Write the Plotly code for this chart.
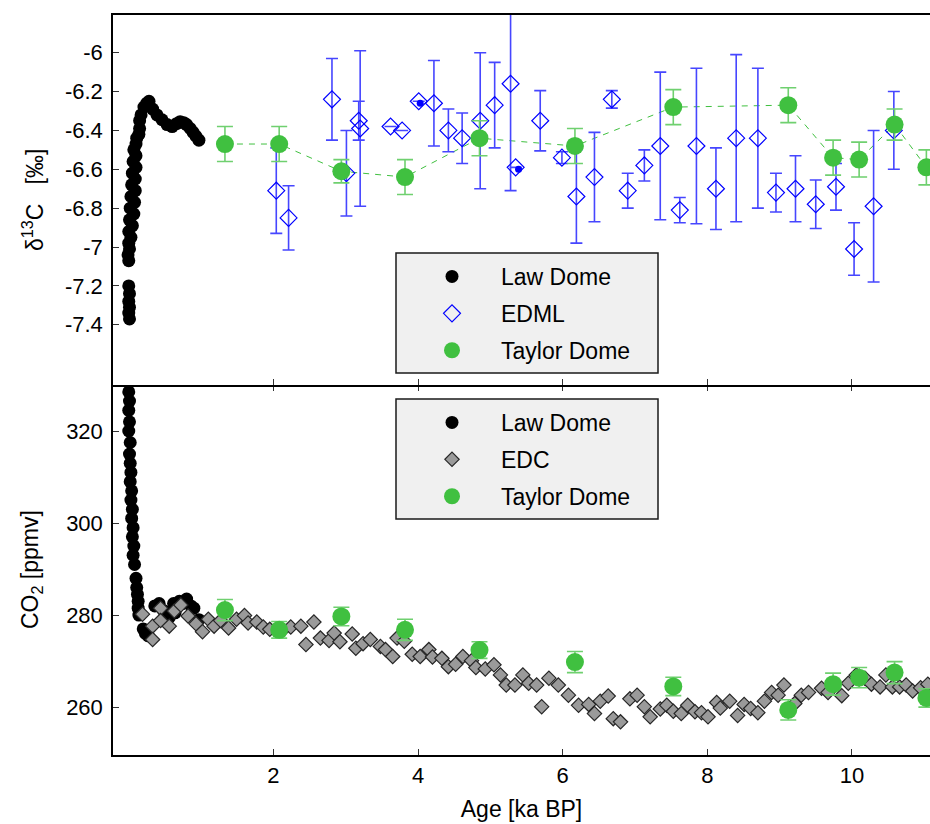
import plotly.graph_objects as go

# ---------------- data ----------------
law_d13c_age = [0.01, 0.00, 0.01, 0.00, 0.01, 0.00,
                0.00, -0.01, 0.01, 0.00, 0.03, 0.00, 0.05, 0.01, 0.07, 0.02,
                0.08, 0.03, 0.09, 0.04, 0.09, 0.05, 0.10, 0.06, 0.10, 0.07,
                0.10, 0.11, 0.14, 0.15, 0.15, 0.17, 0.21, 0.25, 0.28, 0.33,
                0.39, 0.46, 0.53, 0.60, 0.66, 0.71, 0.76, 0.80, 0.85, 0.89,
                0.93, 0.97]
law_d13c = [-7.37, -7.34, -7.31, -7.28, -7.24, -7.20,
            -7.07, -7.04, -7.01, -6.98, -6.95, -6.92, -6.89, -6.86, -6.83, -6.80,
            -6.77, -6.74, -6.71, -6.68, -6.65, -6.62, -6.59, -6.56, -6.53, -6.50,
            -6.47, -6.44, -6.42, -6.39, -6.35, -6.32, -6.28, -6.26, -6.25, -6.29,
            -6.32, -6.345, -6.37, -6.38, -6.365, -6.355, -6.36, -6.37, -6.39, -6.41,
            -6.43, -6.45]

edml_age = [2.04, 2.21, 2.81, 3.01, 3.18, 3.20, 3.62, 3.78, 4.01, 4.22, 4.42, 4.61,
            4.86, 5.06, 5.28, 5.35, 5.69, 5.99, 6.19, 6.44, 6.68, 6.90, 7.13, 7.35,
            7.62, 7.85, 8.12, 8.40, 8.70, 8.95, 9.22, 9.50, 9.78, 10.03, 10.30, 10.58]
edml_d13c = [-6.71, -6.85, -6.24, -6.62, -6.35, -6.39, -6.38, -6.40, -6.25, -6.26, -6.40, -6.44,
             -6.35, -6.27, -6.16, -6.59, -6.35, -6.54, -6.74, -6.64, -6.24, -6.71, -6.58, -6.48,
             -6.81, -6.48, -6.70, -6.44, -6.44, -6.72, -6.70, -6.78, -6.69, -7.01, -6.79, -6.40]
edml_err = [0.22, 0.165, 0.21, 0.22, 0.10, 0.40, None, None, None, 0.22, 0.11, 0.13,
            0.35, 0.22, 0.55, None, 0.155, 0.03, 0.24, 0.23, 0.045, 0.09, 0.08, 0.38,
            0.065, 0.40, 0.21, 0.43, 0.36, 0.10, 0.17, 0.125, 0.12, 0.135, 0.39, 0.20]
edml_dot_age = [4.03, 5.39]
edml_dot_d13c = [-6.26, -6.60]

td_age = [1.33, 2.08, 2.94, 3.82, 4.85, 6.17, 7.53, 9.12, 9.74, 10.10, 10.59, 11.03]
td_d13c = [-6.47, -6.47, -6.61, -6.64, -6.44, -6.48, -6.28, -6.27, -6.54, -6.55, -6.37, -6.59]
td_d13c_err = [0.09, 0.09, 0.06, 0.09, 0.09, 0.09, 0.09, 0.09, 0.09, 0.09, 0.08, 0.09]
td_co2 = [281.1, 276.8, 279.7, 276.8, 272.4, 269.8, 264.5, 259.4, 265.0, 266.4, 267.5, 262.0]
td_co2_err = [2.3, 1.8, 2.0, 2.3, 1.8, 2.3, 2.0, 2.2, 2.4, 2.2, 2.4, 2.0]

law_co2_age = [0.00, 0.01, 0.00, 0.01, 0.00, 0.02, 0.01, 0.02, 0.03, 0.02, 0.04, 0.03,
               0.05, 0.04, 0.06, 0.05, 0.07, 0.06, 0.08, 0.10, 0.11, 0.12, 0.13, 0.13,
               0.14, 0.20, 0.23, 0.27, 0.36, 0.42, 0.48, 0.56, 0.62, 0.64, 0.70, 0.74,
               0.80, 0.86, 0.90, 0.97]
law_co2 = [328.5, 326.5, 324.5, 322.0, 320.0, 317.5, 315.0, 313.0, 311.0, 309.0, 307.0, 305.0,
           303.0, 301.0, 299.0, 297.0, 295.0, 293.0, 291.0, 288.0, 286.0, 284.5, 283.0, 281.5,
           280.0, 277.0, 276.0, 275.5, 282.0, 282.5, 281.0, 279.5, 282.5, 280.5, 283.0, 282.5,
           283.5, 282.0, 281.5, 279.0]

edc_age = [0.19, 0.33, 0.33, 0.44, 0.44, 0.56, 0.63, 0.72, 0.82, 0.93, 1.02, 1.10, 1.18, 1.27,
           1.38, 1.49, 1.60, 1.65, 1.77, 1.86, 1.95, 2.12, 2.24, 2.38, 2.45, 2.56, 2.65, 2.77,
           2.84, 2.92, 3.09, 3.14, 3.24, 3.34, 3.48, 3.55, 3.65, 3.71, 3.81, 3.92, 4.03, 4.15,
           4.20, 4.33, 4.42, 4.52, 4.62, 4.74, 4.80, 4.93, 5.05, 5.14, 5.22, 5.34, 5.45, 5.53,
           5.64, 5.71, 5.81, 5.94, 6.08, 6.22, 6.36, 6.44, 6.52, 6.63, 6.70, 6.80, 6.93, 7.03,
           7.13, 7.21, 7.35, 7.44, 7.53, 7.64, 7.73, 7.83, 7.92, 8.01, 8.13, 8.18, 8.31, 8.42,
           8.51, 8.60, 8.70, 8.79, 8.89, 8.98, 9.06, 9.21, 9.30, 9.40, 9.58, 9.67, 9.86, 9.95,
           10.06, 10.18, 10.27, 10.39, 10.47, 10.56, 10.66, 10.75, 10.84, 10.95, 11.05]
edc_co2 = [280.2, 277.6, 274.7, 281.5, 278.8, 277.6, 280.9, 282.2, 279.8, 278.1, 276.4, 279.1, 277.6, 278.8,
           277.2, 279.1, 279.9, 278.3, 278.5, 277.4, 276.9, 276.6, 277.4, 277.6, 273.6, 278.5, 275.0, 274.5,
           276.1, 274.2, 275.9, 272.8, 273.8, 274.7, 273.2, 272.5, 271.0, 275.0, 274.3, 271.5, 271.0, 272.5,
           270.9, 270.6, 268.8, 269.3, 271.0, 270.1, 268.6, 268.3, 269.2, 267.0, 264.8, 264.8, 267.0, 265.2,
           264.8, 260.1, 266.3, 264.8, 262.6, 260.4, 260.6, 258.6, 261.3, 262.4, 257.5, 256.8, 261.8, 262.6,
           260.1, 257.9, 259.6, 260.4, 259.1, 258.6, 260.4, 259.0, 258.8, 257.9, 261.0, 259.8, 261.3, 258.2,
           260.6, 259.7, 258.8, 261.3, 263.2, 262.6, 264.8, 260.8, 262.6, 263.2, 264.1, 263.2, 262.5, 265.2,
           267.0, 266.3, 265.0, 264.4, 267.0, 264.4, 264.4, 264.8, 263.5, 264.2, 265.0]

x_ticks = [2, 4, 6, 8, 10]
d13c_ticks = [-7.4, -7.2, -7.0, -6.8, -6.6, -6.4, -6.2, -6.0]
d13c_ticktext = ["-7.4", "-7.2", "-7", "-6.8", "-6.6", "-6.4", "-6.2", "-6"]
co2_ticks = [260, 280, 300, 320]

# ---------------- styling ----------------
FONT = "Liberation Sans, Arial, sans-serif"
GREEN = "#40c040"
GREEN_ERR = "#6fd06f"
BLUE = "#0000ff"
BLUE_ERR = "#4646ff"

fig = go.Figure()

# ---- top panel (d13C) ----
fig.add_trace(go.Scatter(x=td_age, y=td_d13c, mode="lines", xaxis="x2", yaxis="y2",
                         line=dict(color=GREEN, width=1, dash="6px,6px"),
                         showlegend=False, hoverinfo="skip"))
fig.add_trace(go.Scatter(x=law_d13c_age, y=law_d13c, mode="markers", xaxis="x2", yaxis="y2",
                         name="Law Dome", legend="legend", legendrank=1, legendgroup="a",
                         marker=dict(symbol="circle", size=13, color="black")))
fig.add_trace(go.Scatter(x=edml_age, y=edml_d13c, mode="markers", xaxis="x2", yaxis="y2",
                         name="EDML", legend="legend", legendrank=2, legendgroup="b",
                         marker=dict(symbol="diamond-open", size=13, color=BLUE,
                                     line=dict(color=BLUE, width=1.2)),
                         error_y=dict(type="data", array=edml_err, color=BLUE_ERR,
                                      thickness=1.6, width=6)))
fig.add_trace(go.Scatter(x=edml_dot_age, y=edml_dot_d13c, mode="markers", xaxis="x2", yaxis="y2",
                         showlegend=False, marker=dict(symbol="circle", size=7, color=BLUE)))
fig.add_trace(go.Scatter(x=td_age, y=td_d13c, mode="markers", xaxis="x2", yaxis="y2",
                         name="Taylor Dome", legend="legend", legendrank=3, legendgroup="c",
                         marker=dict(symbol="circle", size=18, color=GREEN),
                         error_y=dict(type="data", array=td_d13c_err, color=GREEN_ERR,
                                      thickness=1.6, width=8)))

# ---- bottom panel (CO2) ----
fig.add_trace(go.Scatter(x=law_co2_age, y=law_co2, mode="markers", xaxis="x", yaxis="y",
                         name="Law Dome", legend="legend2", legendrank=1, legendgroup="d",
                         marker=dict(symbol="circle", size=13, color="black")))
fig.add_trace(go.Scatter(x=edc_age, y=edc_co2, mode="markers", xaxis="x", yaxis="y",
                         name="EDC", legend="legend2", legendrank=2, legendgroup="e",
                         marker=dict(symbol="diamond", size=11, color="#9a9a9a",
                                     line=dict(color="#262626", width=1.2))))
fig.add_trace(go.Scatter(x=td_age, y=td_co2, mode="markers", xaxis="x", yaxis="y",
                         name="Taylor Dome", legend="legend2", legendrank=3, legendgroup="f",
                         marker=dict(symbol="circle", size=18, color=GREEN),
                         error_y=dict(type="data", array=td_co2_err, color=GREEN_ERR,
                                      thickness=1.6, width=8)))

axis_common = dict(linecolor="black", linewidth=1.5, ticks="inside",
                   ticklen=6, tickwidth=1, tickcolor="#333", showgrid=False, zeroline=False,
                   tickfont=dict(family=FONT, size=22, color="black"))

XRANGE = [-0.218, 11.08]
W, H = 930, 824
ML, MR, MT, MB = 113, 0, 15, 69
PW = W - ML - MR
PH = H - MT - MB


def px_to_paper_x(px):
    return (px - ML) / PW


def px_to_paper_y(py):
    return (H - MB - py) / PH


legend_common = dict(bgcolor="rgba(0,0,0,0)", borderwidth=0, xanchor="left", yanchor="top",
                     font=dict(family=FONT, size=23, color="black"), tracegroupgap=4,
                     itemsizing="trace", itemwidth=88)

fig.update_layout(
    width=W, height=H,
    margin=dict(l=ML, r=MR, t=MT, b=MB),
    paper_bgcolor="white", plot_bgcolor="white",
    # bottom panel x axis: line + labels at bottom
    xaxis=dict(axis_common, showline=True, mirror=False, range=XRANGE, tickvals=x_ticks,
               anchor="y", side="bottom",
               title=dict(text="Age [ka BP]", font=dict(family=FONT, size=23, color="black"),
                          standoff=14)),
    # top panel x axis: frame line at both edges, ticks on its bottom edge
    xaxis2=dict(axis_common, showline=True, mirror=True, range=XRANGE, tickvals=x_ticks,
                anchor="y2", side="bottom", matches="x", showticklabels=False),
    # ticks only at the top edge of the bottom panel
    xaxis3=dict(axis_common, showline=False, range=XRANGE, tickvals=x_ticks,
                anchor="y", overlaying="x", side="top", matches="x", showticklabels=False),
    yaxis=dict(axis_common, showline=True, domain=[0, 0.5], range=[249.6, 330.0],
               tickvals=co2_ticks, ticklabelstandoff=4),
    yaxis2=dict(axis_common, showline=True, domain=[0.5, 1], range=[-7.71, -5.806],
                tickvals=d13c_ticks, ticktext=d13c_ticktext, ticklabelstandoff=4),
    legend=dict(legend_common, x=px_to_paper_x(403), y=px_to_paper_y(255)),
    legend2=dict(legend_common, x=px_to_paper_x(403), y=px_to_paper_y(401)),
    shapes=[
        dict(type="rect", xref="paper", yref="paper", layer="above",
             x0=px_to_paper_x(396), x1=px_to_paper_x(658),
             y0=px_to_paper_y(373), y1=px_to_paper_y(253),
             fillcolor="#f0f0f0", line=dict(color="#1a1a1a", width=1.5)),
        dict(type="rect", xref="paper", yref="paper", layer="above",
             x0=px_to_paper_x(396), x1=px_to_paper_x(658),
             y0=px_to_paper_y(519), y1=px_to_paper_y(399),
             fillcolor="#f0f0f0", line=dict(color="#1a1a1a", width=1.5)),
    ],
    annotations=[
        dict(text="δ<sup>13</sup>C\u00a0\u00a0\u00a0[‰]", xref="paper", yref="paper",
             x=px_to_paper_x(33), y=px_to_paper_y(200), textangle=-90, showarrow=False,
             xanchor="center", yanchor="middle", font=dict(family=FONT, size=23, color="black")),
        dict(text="CO<sub>2</sub> [ppmv]", xref="paper", yref="paper",
             x=px_to_paper_x(31), y=px_to_paper_y(570), textangle=-90, showarrow=False,
             xanchor="center", yanchor="middle", font=dict(family=FONT, size=23, color="black")),
    ],
    showlegend=True,
)

# the third x axis only carries ticks; give it an (invisible) anchor trace
fig.add_trace(go.Scatter(x=[], y=[], xaxis="x3", yaxis="y", showlegend=False, hoverinfo="skip"))

fig.write_html("out.html")
